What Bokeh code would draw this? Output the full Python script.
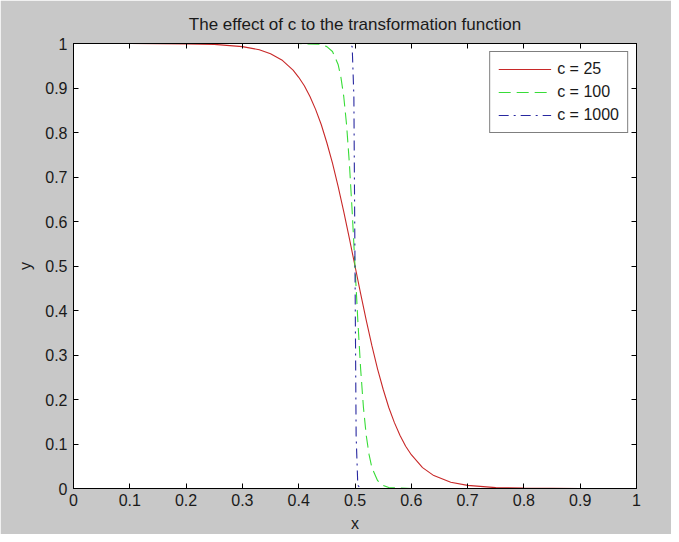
from bokeh.plotting import figure
from bokeh.models import Range1d, FixedTicker, LinearAxis, Legend, LegendItem, CustomJSTickFormatter
from bokeh.embed import file_html
from bokeh.resources import INLINE

# values
x_c25 = [0.0, 0.1, 0.2, 0.25, 0.3, 0.33, 0.35, 0.37, 0.39, 0.4, 0.41, 0.42, 0.43, 0.44, 0.45,
         0.46, 0.47, 0.48, 0.49, 0.5, 0.51, 0.52, 0.53, 0.54, 0.55, 0.56, 0.57, 0.58, 0.59,
         0.6, 0.62, 0.64, 0.67, 0.7, 0.75, 0.8, 0.9, 1.0]
y_c25 = [1.0, 1.0, 0.999, 0.998, 0.993, 0.986, 0.977, 0.963, 0.940, 0.924, 0.905, 0.881, 0.852,
         0.818, 0.777, 0.731, 0.679, 0.622, 0.562, 0.5, 0.438, 0.378, 0.321, 0.269, 0.223,
         0.182, 0.148, 0.119, 0.095, 0.076, 0.047, 0.029, 0.014, 0.007, 0.002, 0.001, 0.0, 0.0]

x_c100 = [0.0, 0.4, 0.44, 0.45, 0.46, 0.47, 0.475, 0.48, 0.485, 0.49, 0.495, 0.5,
          0.505, 0.51, 0.515, 0.52, 0.525, 0.53, 0.54, 0.55, 0.56, 0.6, 1.0]
y_c100 = [1.0, 1.0, 0.998, 0.993, 0.982, 0.953, 0.924, 0.881, 0.818, 0.731, 0.622, 0.5,
          0.378, 0.269, 0.182, 0.119, 0.076, 0.047, 0.018, 0.007, 0.002, 0.0, 0.0]

x_c1000 = [0.0, 0.49, 0.495, 0.498, 0.5, 0.502, 0.505, 0.51, 1.0]
y_c1000 = [1.0, 1.0, 0.993, 0.881, 0.5, 0.119, 0.007, 0.0, 0.0]

labels = ["c = 25", "c = 100", "c = 1000"]
tick_vals = [0, 0.1, 0.2, 0.3, 0.4, 0.5, 0.6, 0.7, 0.8, 0.9, 1]
tick_text = ["0", "0.1", "0.2", "0.3", "0.4", "0.5", "0.6", "0.7", "0.8", "0.9", "1"]

FONT = "Liberation Sans"
GRAY = "#c8c8c8"
TXT = "#1a1a1a"

p = figure(width=671, height=534, output_backend="svg", toolbar_location=None,
           x_range=Range1d(0, 1), y_range=Range1d(0, 1),
           min_border_left=73, min_border_right=35, min_border_top=43, min_border_bottom=46,
           title="The effect of c to the transformation function")
p.background_fill_color = "white"
p.border_fill_color = GRAY
p.outline_line_color = "black"
p.outline_line_width = 1
p.grid.visible = False

p.title.align = "center"
p.title.text_font = FONT
p.title.text_font_size = "17px"
p.title.text_font_style = "normal"
p.title.text_color = TXT
p.title.offset = 0
p.title.standoff = 19

over = {v: t for v, t in zip(tick_vals, tick_text)}

for ax in [p.xaxis[0], p.yaxis[0]]:
    ax.ticker = FixedTicker(ticks=tick_vals)
    ax.major_label_overrides = over
    ax.major_tick_in = 5
    ax.major_tick_out = 0
    ax.minor_tick_line_color = None
    ax.axis_line_color = "black"
    ax.major_tick_line_color = "black"
    ax.major_label_text_font = FONT
    ax.major_label_text_font_size = "16px"
    ax.major_label_text_color = TXT
    ax.axis_label_text_font = FONT
    ax.axis_label_text_font_size = "16px"
    ax.axis_label_text_font_style = "normal"
    ax.axis_label_text_color = TXT

p.xaxis[0].axis_label = "x"
p.yaxis[0].axis_label = "y"
p.xaxis[0].major_label_standoff = 5
p.yaxis[0].major_label_standoff = 6
p.xaxis[0].axis_label_standoff = 6
p.yaxis[0].axis_label_standoff = 8

for loc in ["above", "right"]:
    a = LinearAxis(ticker=FixedTicker(ticks=tick_vals),
                   formatter=CustomJSTickFormatter(code="return ''"),
                   major_label_standoff=0,
                   major_tick_in=5, major_tick_out=0, minor_tick_line_color=None,
                   axis_line_color="black", major_tick_line_color="black")
    p.add_layout(a, loc)

r1 = p.line(x_c25, y_c25, line_color="#c82828", line_width=1.1)
r2 = p.line(x_c100, y_c100, line_color="#38dc38", line_width=1.1, line_dash="12 6")
r3 = p.line(x_c1000, y_c1000, line_color="#2828a0", line_width=1.1, line_dash="10 5 2 5")

legend = Legend(items=[LegendItem(label=labels[0], renderers=[r1]),
                       LegendItem(label=labels[1], renderers=[r2]),
                       LegendItem(label=labels[2], renderers=[r3])],
                location="top_right", margin=8, padding=8, spacing=5,
                glyph_width=53, glyph_height=18, label_height=18, label_standoff=6,
                label_text_font=FONT, label_text_font_size="16px", label_text_color=TXT,
                border_line_color="black", border_line_width=1,
                background_fill_color="white", background_fill_alpha=1.0)
p.add_layout(legend, "center")

open("out.html", "w").write(file_html(p, INLINE))
